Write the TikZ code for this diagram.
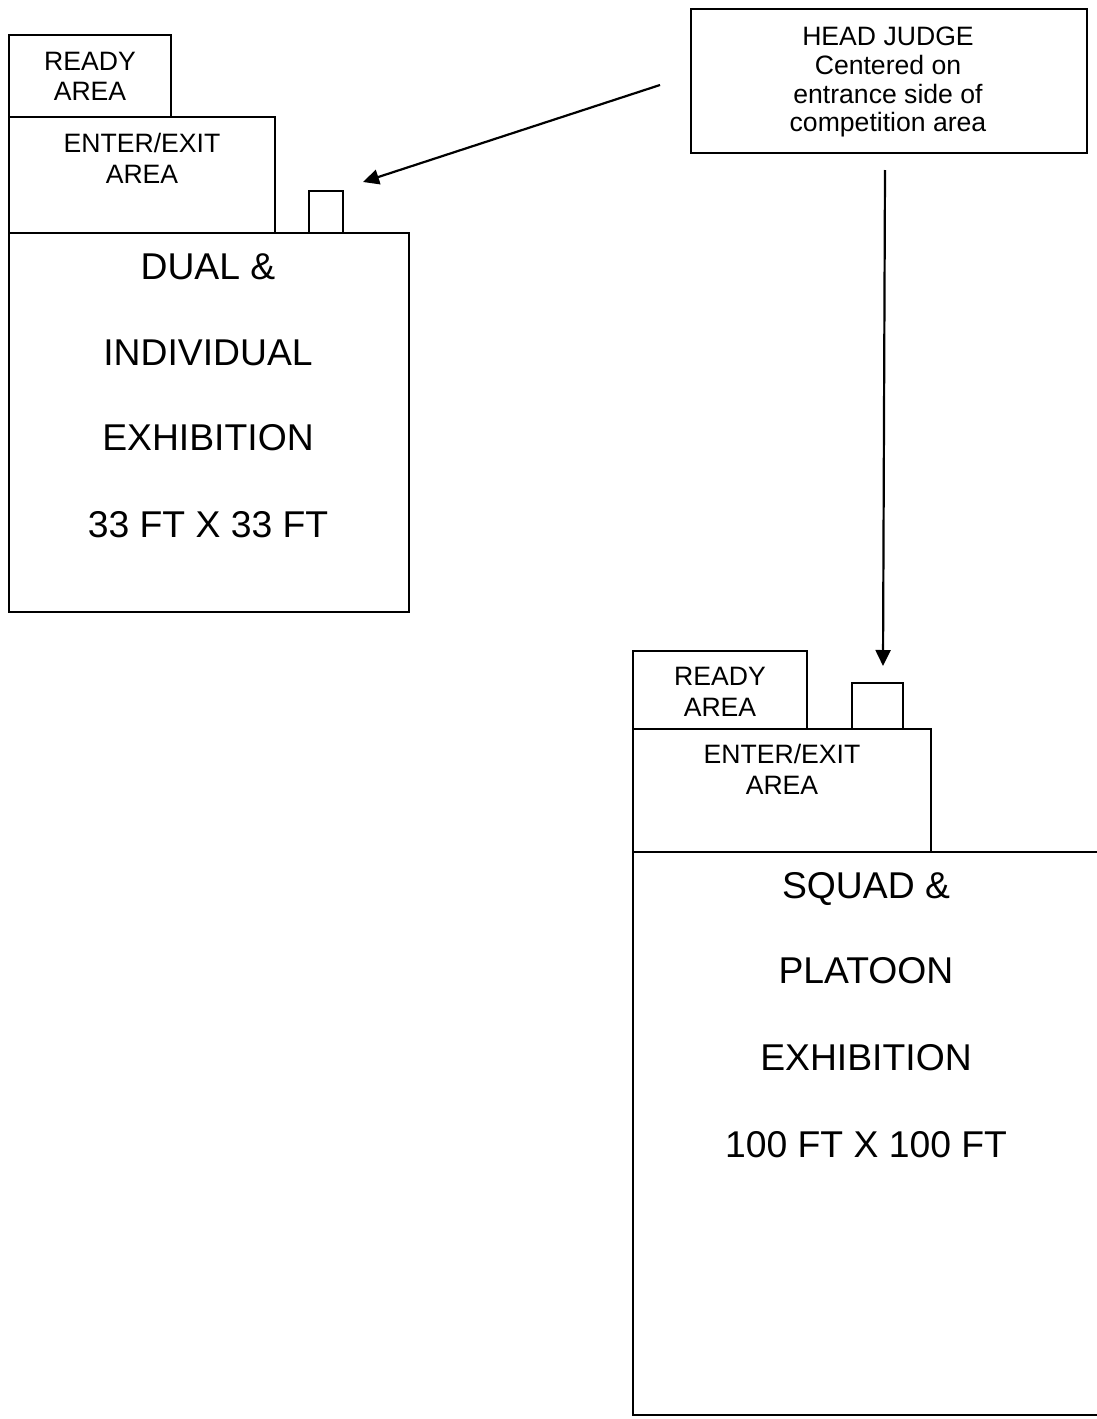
\documentclass[tikz,border=0pt]{standalone}
\usepackage{fontspec}
\setmainfont{Liberation Sans}
\usetikzlibrary{arrows.meta}
\begin{document}
\begin{tikzpicture}[x=1pt,y=-1pt,
  box/.style={draw,line width=2.2pt,inner sep=0pt,outer sep=0pt},
  small/.style={font=\fontsize{26.6}{30}\selectfont,anchor=base,inner sep=0pt},
  big/.style={font=\fontsize{37.3}{40}\selectfont,anchor=base,inner sep=0pt},
  conn/.style={line width=2.2pt,-{Triangle[length=16pt,width=15pt]}}]
\useasboundingbox (0,0) rectangle (1096,1419);
% left group
\node[box,minimum width=162pt,minimum height=82pt] (ready1) at (90,76) {};
\node[box,minimum width=266pt,minimum height=116pt] (enter1) at (142,175) {};
\node[box,minimum width=34pt,minimum height=42pt] (judgebox1) at (326,212) {};
\node[box,minimum width=400pt,minimum height=379pt] (dual) at (209,422.5) {};
\node[small] (r1a) at (90,70) {READY};
\node[small] (r1b) at (90,100) {AREA};
\node[small] (e1a) at (142,152) {ENTER/EXIT};
\node[small] (e1b) at (142,183) {AREA};
\node[big] (d1) at (208,279) {DUAL \&};
\node[big] (d2) at (208,365) {INDIVIDUAL};
\node[big] (d3) at (208,450) {EXHIBITION};
\node[big] (d4) at (208,537) {33 FT X 33 FT};
% head judge
\node[box,minimum width=396pt,minimum height=144pt] (judge) at (889,81) {};
\node[small] (j1) at (888,45) {HEAD JUDGE};
\node[small] (j2) at (888,74) {Centered on};
\node[small] (j3) at (888,103) {entrance side of};
\node[small] (j4) at (888,131) {competition area};
% right group
\node[box,minimum width=174pt,minimum height=78pt] (ready2) at (720,690) {};
\node[box,minimum width=51pt,minimum height=46pt] (judgebox2) at (877.5,706) {};
\node[box,minimum width=298pt,minimum height=123pt] (enter2) at (782,790.5) {};
\coordinate (sqTR) at (1097,852);
\coordinate (sqTL) at (633,852);
\coordinate (sqBL) at (633,1415);
\coordinate (sqBR) at (1097,1415);
\draw[line width=2.2pt] (sqTR) -- (sqTL) -- (sqBL) -- (sqBR);
\node[small] (r2a) at (720,685) {READY};
\node[small] (r2b) at (720,716) {AREA};
\node[small] (e2a) at (782,763) {ENTER/EXIT};
\node[small] (e2b) at (782,794) {AREA};
\node[big] (s1) at (866,898) {SQUAD \&};
\node[big] (s2) at (866,983) {PLATOON};
\node[big] (s3) at (866,1070) {EXHIBITION};
\node[big] (s4) at (866,1157) {100 FT X 100 FT};
% arrows
\coordinate (a1s) at (660,85);
\coordinate (a1e) at (363,182);
\coordinate (a2s) at (885,170);
\coordinate (a2e) at (883,666);
\draw[conn] (a1s) -- (a1e);
\draw[conn] (a2s) -- (a2e);
\end{tikzpicture}
\end{document}
